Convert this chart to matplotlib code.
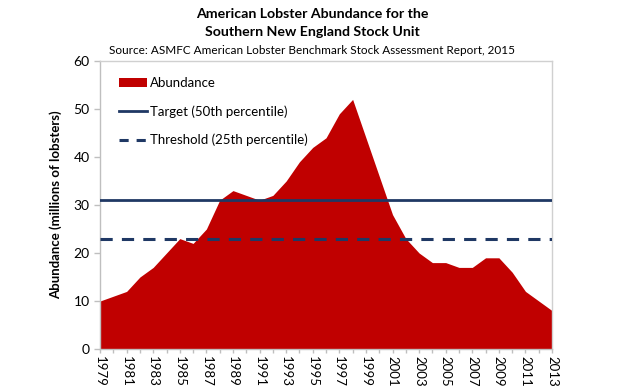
import matplotlib
matplotlib.use("Agg")
import matplotlib.pyplot as plt
import numpy as np
from matplotlib.patches import Patch
from matplotlib.lines import Line2D

years = list(range(1979, 2014))
abundance = [10, 11, 12, 15, 17, 20, 23, 22, 25, 31, 33, 32, 31, 32, 35, 39, 42, 44,
             49, 52, 44, 36, 28, 23, 20, 18, 18, 17, 17, 19, 19, 16, 12, 10, 8]
target = 31
threshold = 23
tick_years = list(range(1979, 2014, 2))

plt.rcParams['font.family'] = ['Lato', 'DejaVu Sans']

fig = plt.figure(figsize=(6.24, 3.9), dpi=100)
ax = fig.add_axes([0.1603, 0.1051, 0.7244, 0.7385])

red = '#C00000'
navy = '#1F3864'
ax.fill_between(years, abundance, 0, color=red, linewidth=0, zorder=2)
ax.axhline(target, color=navy, linewidth=2, zorder=3)
ax.axhline(threshold, color=navy, linewidth=2.2, linestyle=(0, (4, 3)), zorder=3)

ax.set_xlim(1979, 2013)
ax.set_ylim(0, 60)
ax.set_yticks(range(0, 61, 10))
ax.set_xticks(years, minor=True)
ax.set_xticks(tick_years)
ax.set_xticklabels([str(y) for y in tick_years], rotation=270, fontsize=9.5)
ax.tick_params(axis='y', labelsize=10, length=4, color='#BFBFBF', width=1)
ax.tick_params(axis='x', which='both', length=3, color='#BFBFBF', width=1, pad=2)
for s in ax.spines.values():
    s.set_color('#D0D0D0')
    s.set_linewidth(1)
ax.spines['left'].set_color('#BFBFBF')
ax.spines['bottom'].set_color('#BFBFBF')

ax.set_ylabel('Abundance (millions of lobsters)', fontsize=9.5, fontweight='bold', labelpad=8)

handles = [Patch(facecolor=red, edgecolor='none'),
           Line2D([0], [0], color=navy, lw=2),
           Line2D([0], [0], color=navy, lw=2.2, linestyle=(0, (3, 2.6)))]
labels = ['Abundance', 'Target (50th percentile)', 'Threshold (25th percentile)']
leg = ax.legend(handles, labels, loc='upper left', frameon=False, fontsize=9.5,
                labelspacing=1.22, handlelength=2.1, handletextpad=0.25,
                bbox_to_anchor=(0.016, 0.985), borderaxespad=0.5)

fig.text(0.5, 0.964, 'American Lobster Abundance for the', ha='center', va='center',
         fontsize=10.2, fontweight='bold')
fig.text(0.5, 0.917, 'Southern New England Stock Unit', ha='center', va='center',
         fontsize=10.2, fontweight='bold')
fig.text(0.5, 0.871, 'Source: ASMFC American Lobster Benchmark Stock Assessment Report, 2015',
         ha='center', va='center', fontsize=8.5)

fig.savefig('out.png', dpi=100)
